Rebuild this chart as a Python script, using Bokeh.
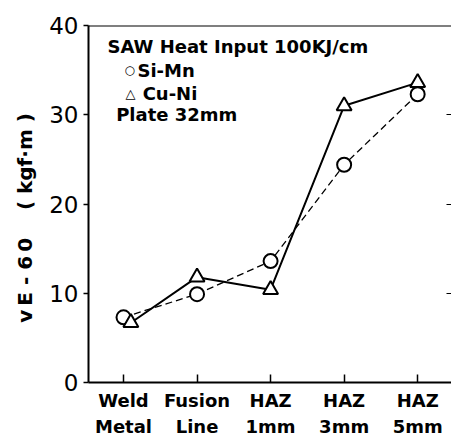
from bokeh.plotting import figure
from bokeh.models import FixedTicker, LinearAxis, Span, Label, Range1d
from bokeh.embed import file_html
from bokeh.resources import INLINE

categories = ["Weld\nMetal", "Fusion\nLine", "HAZ\n1mm", "HAZ\n3mm", "HAZ\n5mm"]
x_pos = [0, 1, 2, 3, 4]
si_mn = [7.3, 9.9, 13.6, 24.4, 32.3]
cu_ni_x = [0.1, 1, 2, 3, 4]
cu_ni = [6.7, 11.8, 10.4, 31.0, 33.6]
y_ticks = [0, 10, 20, 30, 40]

FONT = "DejaVu Sans"
NB = "\u00a0"
TH = "\u2009"

p = figure(width=451, height=439, output_backend="svg", toolbar_location=None,
           x_range=Range1d(-0.476, 4.46), y_range=Range1d(0, 40),
           min_border_left=88, min_border_top=25, min_border_right=0, min_border_bottom=56)
p.outline_line_color = None
p.grid.visible = False
p.background_fill_color = "white"

# axes
xa = p.xaxis[0]
xa.ticker = FixedTicker(ticks=x_pos)
xa.major_label_overrides = {i: c for i, c in zip(x_pos, categories)}
xa.major_tick_in = 8
xa.major_tick_out = 0
xa.minor_tick_line_color = None
xa.axis_line_width = 2
xa.major_tick_line_width = 1.5
xa.major_label_text_font = FONT
xa.major_label_text_font_style = "bold"
xa.major_label_text_font_size = "18px"
xa.major_label_text_line_height = 1.24
xa.major_label_standoff = 7
xa.major_label_text_color = "black"

ya = p.yaxis[0]
ya.ticker = FixedTicker(ticks=y_ticks)
ya.major_tick_in = 0
ya.major_tick_out = 5
ya.minor_tick_line_color = None
ya.axis_line_width = 2
ya.major_tick_line_width = 1.5
ya.major_label_text_font = FONT
ya.major_label_text_font_size = "23px"
ya.major_label_standoff = 5
ya.major_label_text_color = "black"
ya.axis_label = ("v" + TH + "E" + NB + "-" + NB + "6" + TH + "0" + NB * 4 +
                 "(" + NB + "kgf·m" + NB + ")" + NB * 4)
ya.axis_label_text_font = FONT
ya.axis_label_text_font_style = "bold"
ya.axis_label_text_font_size = "20px"
ya.axis_label_standoff = 9
ya.axis_label_text_color = "black"

ra = LinearAxis(ticker=FixedTicker(ticks=[10, 20, 30]))
ra.major_tick_in = 5
ra.major_tick_out = 0
ra.minor_tick_line_color = None
ra.axis_line_color = None
ra.major_label_text_font_size = "0px"
ra.major_label_standoff = 0
ra.major_label_overrides = {10: "", 20: "", 30: ""}
p.add_layout(ra, "right")

p.add_layout(Span(location=40, dimension="width", line_color="black", line_width=2))

# series
p.line(x_pos, si_mn, line_color="black", line_width=1.3, line_dash="7 4")
p.scatter(x_pos, si_mn, marker="circle", size=14, fill_color="white",
          line_color="black", line_width=2)
p.line(cu_ni_x, cu_ni, line_color="black", line_width=2)
p.scatter(cu_ni_x, cu_ni, marker="triangle", size=15, fill_color="white",
          line_color="black", line_width=2)

# annotation text
texts = ["SAW Heat Input 100KJ/cm", "Si-Mn", "Cu-Ni", "Plate 32mm"]
tx = [-0.218, 0.19, 0.26, -0.10]
ty = [37.7, 34.97, 32.4, 30.0]
for t, xx, yy in zip(texts, tx, ty):
    p.add_layout(Label(x=xx, y=yy, text=t, text_font=FONT, text_font_style="bold",
                       text_font_size="18px", text_baseline="middle", text_color="black"))
symbols = ["○", "△"]
sx = [0.085, 0.095]
sy = [34.97, 32.4]
sfs = ["12px", "13px"]
for t, xx, yy, fs in zip(symbols, sx, sy, sfs):
    p.add_layout(Label(x=xx, y=yy, text=t, text_font=FONT, text_font_style="bold",
                       text_font_size=fs, text_align="center",
                       text_baseline="middle", text_color="black"))

open("out.html", "w").write(file_html(p, INLINE))
